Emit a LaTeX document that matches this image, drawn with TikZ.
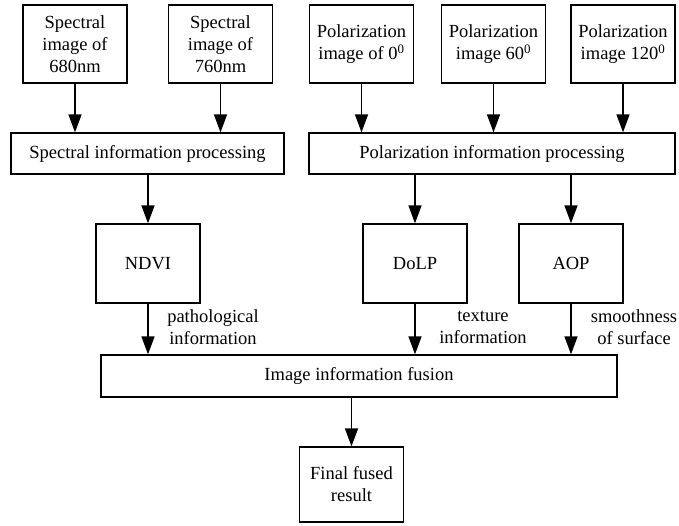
\documentclass[tikz,border=0pt]{standalone}
\usepackage{fontspec}
\setmainfont{Liberation Serif}
\usetikzlibrary{arrows.meta,calc}

\begin{document}
\begin{tikzpicture}[x=1pt,y=1pt,
    every node/.style={align=center,inner sep=0pt,font=\fontsize{18.5}{22}\selectfont},
    imgbox/.style={draw,line width=1.3pt,minimum width=104,minimum height=78},
    procbox/.style={draw,line width=1.3pt,minimum height=41},
    resbox/.style={draw,line width=1.3pt,minimum width=104,minimum height=79},
    flow/.style={-{Triangle[length=18pt,width=13pt]},line width=1.5pt}]
    \useasboundingbox (0,0) rectangle (679,-525);
    % sources
    \node[imgbox] (spec680) at (75,-44) {Spectral\\image of\\680nm};
    \node[imgbox] (spec760) at (220.5,-44) {Spectral\\image of\\760nm};
    \node[imgbox] (pol0) at (361.5,-44) {Polarization\\image of 0\textsuperscript{0}};
    \node[imgbox] (pol60) at (493.5,-44) {Polarization\\image 60\textsuperscript{0}};
    \node[imgbox] (pol120) at (623,-44) {Polarization\\image 120\textsuperscript{0}};
    % processing
    \node[procbox,minimum width=273] (specproc) at (147.5,-153.5) {Spectral information processing};
    \node[procbox,minimum width=366] (polproc) at (492,-153.5) {Polarization information processing};
    \node[resbox] (ndvi) at (148,-263.5) {NDVI};
    \node[resbox] (dolp) at (415,-263.5) {DoLP};
    \node[resbox] (aop) at (571,-263.5) {AOP};
    \node[procbox,minimum width=516,minimum height=42] (fusion) at (359,-376) {Image information fusion};
    \node[imgbox,minimum height=75] (final) at (351.5,-484.5) {Final fused\\result};
    % labels
    \node (pathlbl) at (213,-327) {pathological\\information};
    \node (texlbl) at (483,-327) {texture\\information};
    \node (smoothlbl) at (634,-327) {smoothness\\of surface};
    \path [flow] (spec680.south) edge (spec680.south |- specproc.north)
        (spec760.south) edge (spec760.south |- specproc.north)
        (pol0.south) edge (pol0.south |- polproc.north)
        (pol60.south) edge (pol60.south |- polproc.north)
        (pol120.south) edge (pol120.south |- polproc.north)
        (ndvi.north |- specproc.south) edge (ndvi.north)
        (dolp.north |- polproc.south) edge (dolp.north)
        (aop.north |- polproc.south) edge (aop.north)
        (ndvi.south) edge (ndvi.south |- fusion.north)
        (dolp.south) edge (dolp.south |- fusion.north)
        (aop.south) edge (aop.south |- fusion.north)
        (final.north |- fusion.south) edge (final.north);
\end{tikzpicture}
\end{document}
